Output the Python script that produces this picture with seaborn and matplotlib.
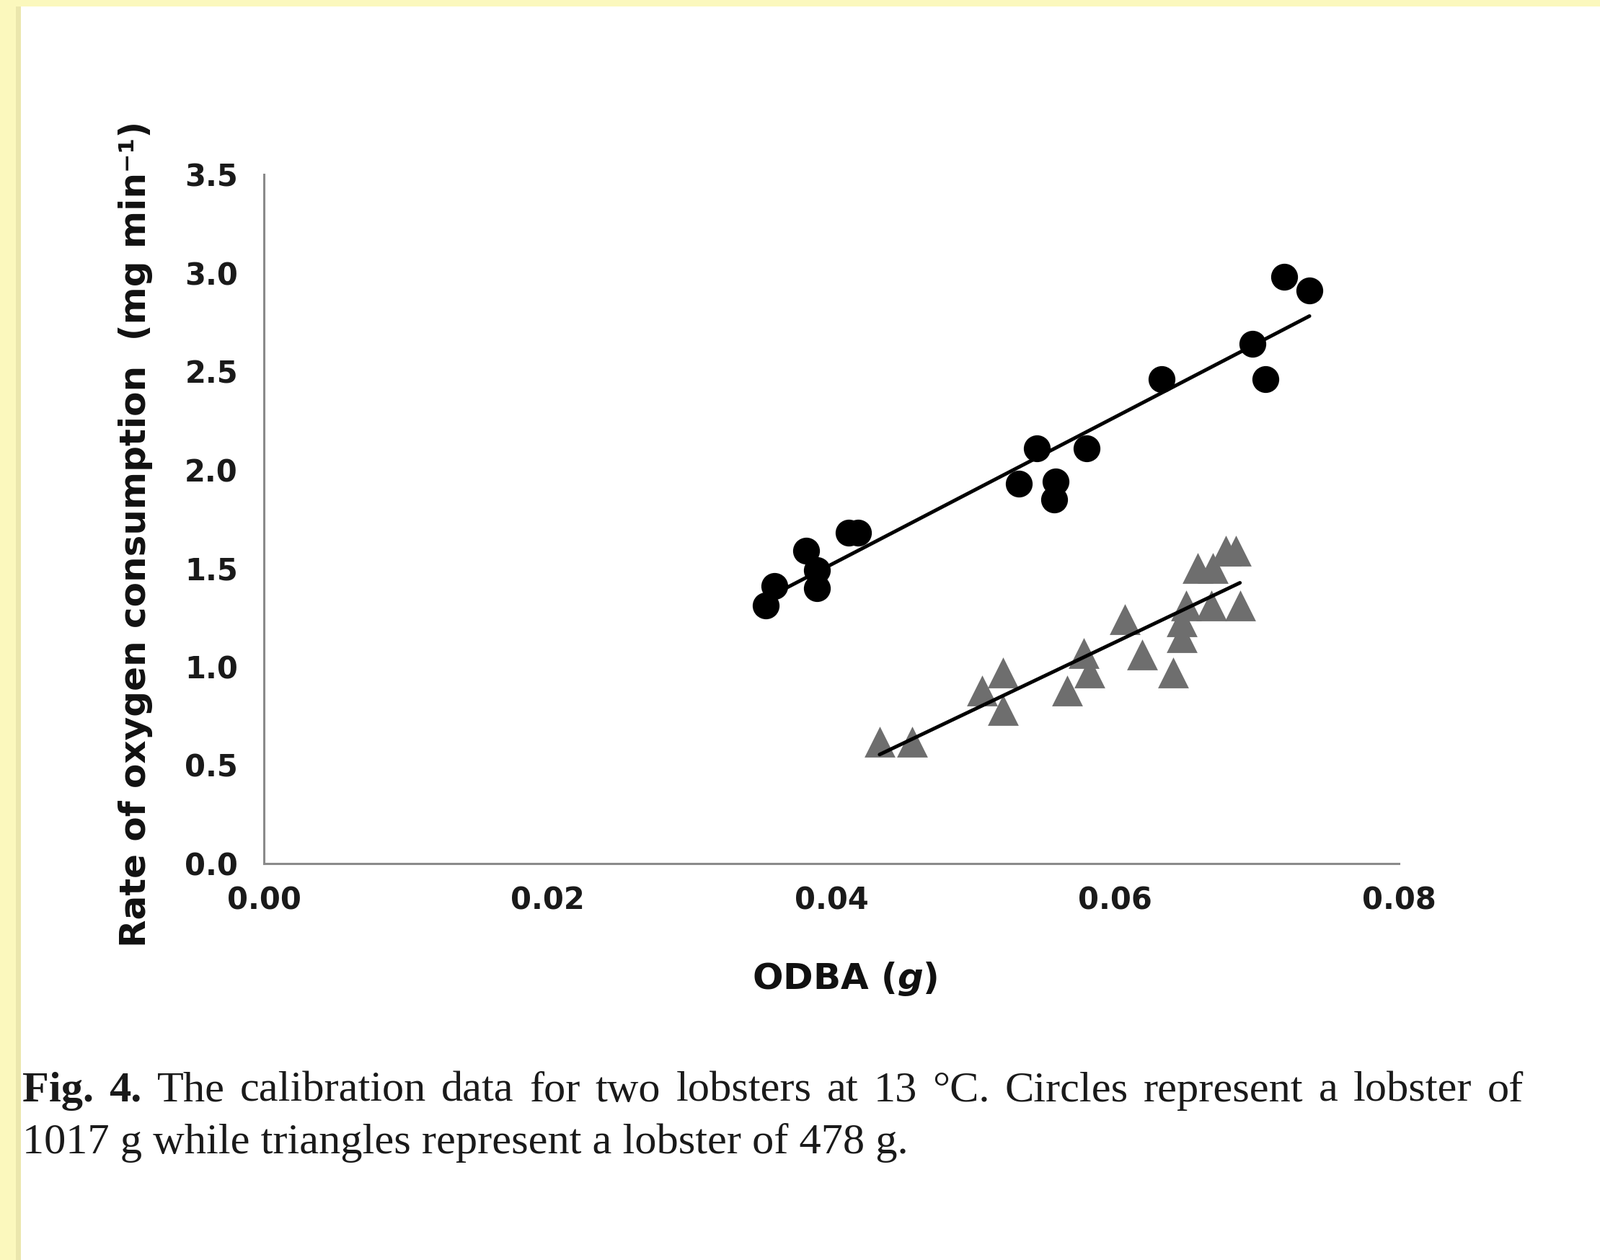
import numpy as np
import pandas as pd
import matplotlib
matplotlib.use("Agg")
import matplotlib.pyplot as plt
import seaborn as sns
from matplotlib.patches import Rectangle

# lobster of 1017 g (circles)
big_odba = [0.0354, 0.0360, 0.0382, 0.0390, 0.0390, 0.0412, 0.0419, 0.0532, 0.0545,
            0.0558, 0.0557, 0.0580, 0.0633, 0.0697, 0.0706, 0.0719, 0.0737]
big_vo2 = [1.31, 1.41, 1.59, 1.49, 1.40, 1.68, 1.68, 1.93, 2.11,
           1.94, 1.85, 2.11, 2.46, 2.64, 2.46, 2.98, 2.91]

# lobster of 478 g (triangles)
small_odba = [0.0434, 0.0457, 0.0506, 0.0521, 0.0521, 0.0566, 0.0578, 0.0582, 0.0607, 0.0619,
              0.0641, 0.0647, 0.0647, 0.0650, 0.0658, 0.0669, 0.0678, 0.0685, 0.0668, 0.0688]
small_vo2 = [0.62, 0.62, 0.88, 0.97, 0.78, 0.88, 1.07, 0.97, 1.24, 1.06,
             0.97, 1.15, 1.23, 1.31, 1.50, 1.50, 1.59, 1.59, 1.31, 1.31]

x_ticks = [0.00, 0.02, 0.04, 0.06, 0.08]
y_ticks = [0.0, 0.5, 1.0, 1.5, 2.0, 2.5, 3.0, 3.5]

x_label = r"ODBA ($g$)"
y_label = "Rate of oxygen consumption  (mg min\u207b\u00b9)"
caption_line1 = "Fig. 4. The calibration data for two lobsters at 13 °C. Circles represent a lobster of"
caption_line2 = "1017 g while triangles represent a lobster of 478 g."

sns.set_style("white")
plt.rcParams["font.family"] = ["DejaVu Sans"]
plt.rcParams["mathtext.fontset"] = "custom"
plt.rcParams["mathtext.rm"] = "DejaVu Sans:bold"
plt.rcParams["mathtext.it"] = "DejaVu Sans:italic:bold"

W, H = 2219, 1748
fig = plt.figure(figsize=(W / 100, H / 100), dpi=100, facecolor="#fbf8bd")
fig.add_artist(Rectangle((22 / W, 0), 7 / W, 1 - 9 / H, transform=fig.transFigure,
                         facecolor="#ebe7ad", edgecolor="none", zorder=0))
fig.add_artist(Rectangle((29 / W, 0), 1, 1 - 9 / H, transform=fig.transFigure,
                         facecolor="white", edgecolor="none", zorder=0))

ax = fig.add_axes([366 / W, 1 - 1198 / H, (1940 - 366) / W, (1198 - 242) / H])
ax.set_facecolor("none")

df_big = pd.DataFrame({"odba": big_odba, "vo2": big_vo2})
df_small = pd.DataFrame({"odba": small_odba, "vo2": small_vo2})

sns.regplot(data=df_big, x="odba", y="vo2", ax=ax, ci=None, marker="o", color="black",
            scatter_kws={"s": 720, "linewidths": 0, "alpha": 1},
            line_kws={"lw": 3.6, "color": "black"})
sns.regplot(data=df_small, x="odba", y="vo2", ax=ax, ci=None, marker="^", color="#6e6e6e",
            scatter_kws={"s": 950, "linewidths": 0, "alpha": 1},
            line_kws={"lw": 3.6, "color": "black"})

ax.set_xlim(0, 0.08)
ax.set_ylim(0, 3.5)
sns.despine(ax=ax)
for side in ["left", "bottom"]:
    ax.spines[side].set_color("#8a8a8a")
    ax.spines[side].set_linewidth(2.2)

ax.set_xticks(x_ticks)
ax.set_xticklabels([f"{v:.2f}" for v in x_ticks], fontweight="bold")
ax.set_yticks(y_ticks)
ax.set_yticklabels([f"{v:.1f}" for v in y_ticks], fontweight="bold")
ax.tick_params(direction="in", length=13, width=1.6, color="#8a8a8a",
               labelsize=30, labelcolor="#1a1a1a")
ax.tick_params(axis="x", pad=22)
ax.tick_params(axis="y", pad=26)

ax.set_xlabel(x_label, fontsize=36, fontweight="bold", color="#111111")
ax.xaxis.set_label_coords((1172 - 366) / (1940 - 366), (1198 - 1358) / (1198 - 242))
ax.xaxis.label.set_va("center")
ax.set_ylabel(y_label, fontsize=36, fontweight="bold", color="#111111")
ax.yaxis.set_label_coords((188 - 366) / (1940 - 366), (1198 - 741) / (1198 - 242))
ax.yaxis.label.set_va("center")

# caption, first line justified
renderer = fig.canvas.get_renderer()
x_left, x_right = 31, 2113
cap_size = 43.5
words = caption_line1.split(" ")
texts = []
for i, w in enumerate(words):
    t = fig.text(0, 1 - 1528 / H, w, fontsize=cap_size, family="Liberation Serif",
                 fontweight="bold" if i < 2 else "normal", va="baseline", color="#1a1a1a")
    texts.append(t)
widths = [t.get_window_extent(renderer=renderer).width for t in texts]
gap = (x_right - x_left - sum(widths)) / (len(words) - 1)
x = x_left
for t, w in zip(texts, widths):
    t.set_x(x / W)
    x += w + gap
fig.text(x_left / W, 1 - 1600 / H, caption_line2, fontsize=cap_size, family="Liberation Serif",
         va="baseline", color="#1a1a1a")

fig.savefig("out.png", dpi=100, facecolor=fig.get_facecolor())
